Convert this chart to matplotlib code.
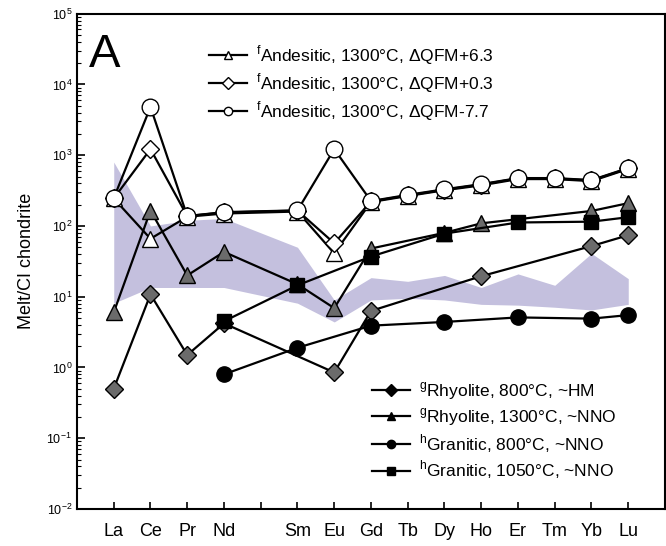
import matplotlib
matplotlib.use("Agg")
import matplotlib.pyplot as plt
from matplotlib.lines import Line2D
import numpy as np

plt.rcParams['font.family'] = ['Liberation Sans', 'DejaVu Sans']
plt.rcParams['mathtext.fontset'] = 'custom'
plt.rcParams['mathtext.rm'] = 'Liberation Sans'

# REE positions (Pm left empty at 4)
ree = ['La', 'Ce', 'Pr', 'Nd', '', 'Sm', 'Eu', 'Gd', 'Tb', 'Dy', 'Ho', 'Er', 'Tm', 'Yb', 'Lu']
pos = {name: i for i, name in enumerate(ree) if name}

# shaded field
band_el = ['La', 'Ce', 'Pr', 'Nd', 'Sm', 'Eu', 'Gd', 'Tb', 'Dy', 'Ho', 'Er', 'Tm', 'Yb', 'Lu']
band_hi = [800, 100, 120, 128, 50, 9, 18.6, 16.5, 20, 13.5, 21, 14.5, 41, 18]
band_lo = [8.1, 13.5, 13.5, 13.5, 8.1, 4.4, 9, 9.5, 9, 7.8, 7.6, 7.1, 6.5, 7.8]

# Andesitic, 1300C
and_el = ['La', 'Ce', 'Pr', 'Nd', 'Sm', 'Eu', 'Gd', 'Tb', 'Dy', 'Ho', 'Er', 'Tm', 'Yb', 'Lu']
and_p63 = [245, 66, 135, 150, 160, 41, 218, 265, 320, 375, 460, 460, 430, 640]
and_p03 = [245, 1220, 138, 155, 165, 57, 222, 270, 325, 385, 470, 470, 440, 650]
and_m77 = [247, 4800, 138, 157, 166, 1220, 225, 275, 330, 390, 475, 475, 445, 660]

# Rhyolite 800C ~HM
rh800_el = ['La', 'Ce', 'Pr', 'Nd', 'Eu', 'Gd', 'Ho', 'Yb', 'Lu']
rh800 = [0.50, 10.8, 1.5, 4.2, 0.85, 6.3, 19.5, 52, 74]

# Rhyolite 1300C ~NNO
rh1300_el = ['La', 'Ce', 'Pr', 'Nd', 'Sm', 'Eu', 'Gd', 'Dy', 'Ho', 'Yb', 'Lu']
rh1300 = [6.0, 165, 20, 43, 15, 6.9, 48, 80, 109, 163, 210]

# Granitic 800C ~NNO
gr800_el = ['Nd', 'Sm', 'Gd', 'Dy', 'Er', 'Yb', 'Lu']
gr800 = [0.80, 1.9, 3.9, 4.4, 5.1, 4.9, 5.5]

# Granitic 1050C ~NNO
gr1050_el = ['Nd', 'Sm', 'Gd', 'Dy', 'Er', 'Yb', 'Lu']
gr1050 = [4.5, 14.5, 37, 78, 112, 115, 133]

grey = '#6b6b6b'
fig = plt.figure(figsize=(6.66, 5.46), dpi=100)
ax = fig.add_axes([0.1156, 0.0678, 0.8829, 0.9071])

bx = [pos[e] for e in band_el]
ax.fill_between(bx, band_lo, band_hi, color='#c4c0de', lw=0, zorder=1)

def px(els):
    return [pos[e] for e in els]

kw = dict(color='black', lw=1.6, mec='black', mew=1.0, zorder=3)
ax.plot(px(rh800_el), rh800, marker='D', ms=9, mfc=grey, **kw)
ax.plot(px(gr800_el), gr800, marker='o', ms=11, mfc='black', **kw)
ax.plot(px(rh1300_el), rh1300, marker='^', ms=12, mfc=grey, **kw)
ax.plot(px(gr1050_el), gr1050, marker='s', ms=10, mfc='black', **kw)
ax.plot(px(and_el), and_p63, marker='^', ms=12, mfc='white', **kw)
ax.plot(px(and_el), and_p03, marker='D', ms=9, mfc='white', **kw)
ax.plot(px(and_el), and_m77, marker='o', ms=12, mfc='white', **kw)

ax.set_yscale('log')
ax.set_ylim(1e-2, 1e5)
ax.set_xlim(-1, 15)
ax.set_xticks(range(len(ree)))
ax.set_xticklabels(ree, fontsize=13)
ax.tick_params(axis='x', direction='in', length=5, width=1.2, pad=10)
ax.tick_params(axis='y', which='major', direction='in', length=6, width=1.2, labelsize=9)
ax.tick_params(axis='y', which='minor', direction='in', length=3, width=0.8)
ax.yaxis.set_minor_locator(matplotlib.ticker.LogLocator(base=10, subs=np.arange(2, 10), numticks=20))
for s in ax.spines.values():
    s.set_linewidth(1.5)
ax.set_ylabel('Melt/CI chondrite', fontsize=13, labelpad=8)

ax.text(0.02, 0.962, 'A', transform=ax.transAxes, fontsize=34, va='top', ha='left')

h1 = [Line2D([], [], color='black', lw=1.6, marker=m, ms=6, mfc='white', mec='black')
      for m in ['^', 'D', 'o']]
l1 = [r'$^{\rm f}$Andesitic, 1300°C, ΔQFM+6.3',
      r'$^{\rm f}$Andesitic, 1300°C, ΔQFM+0.3',
      r'$^{\rm f}$Andesitic, 1300°C, ΔQFM-7.7']
leg1 = ax.legend(h1, l1, loc='upper left', bbox_to_anchor=(0.198, 0.972), frameon=False,
                 fontsize=12.5, handlelength=2.2, handletextpad=0.5, labelspacing=0.25)
ax.add_artist(leg1)

h2 = [Line2D([], [], color='black', lw=1.6, marker=m, ms=6, mfc='black', mec='black')
      for m in ['D', '^', 'o', 's']]
l2 = [r'$^{\rm g}$Rhyolite, 800°C, ~HM',
      r'$^{\rm g}$Rhyolite, 1300°C, ~NNO',
      r'$^{\rm h}$Granitic, 800°C, ~NNO',
      r'$^{\rm h}$Granitic, 1050°C, ~NNO']
ax.legend(h2, l2, loc='lower left', bbox_to_anchor=(0.475, 0.024), frameon=False,
          fontsize=12.5, handlelength=2.2, handletextpad=0.5, labelspacing=0.25)

fig.savefig('out.png', dpi=100)
